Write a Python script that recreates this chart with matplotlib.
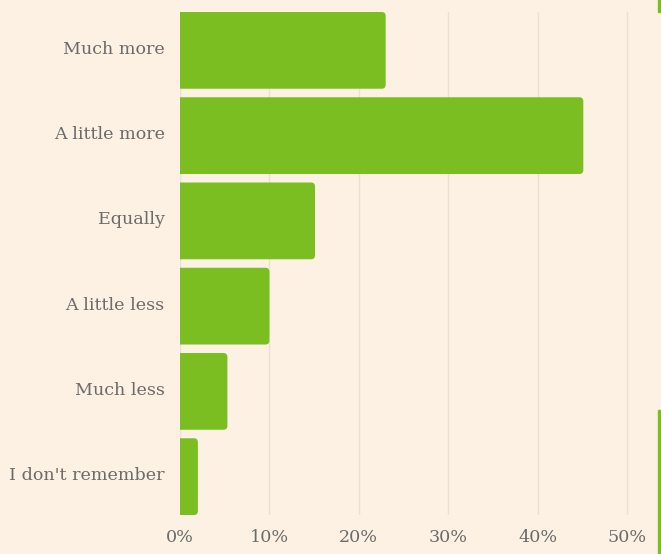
import matplotlib
matplotlib.use("Agg")
import matplotlib.pyplot as plt
import matplotlib.transforms as mtrans
from matplotlib.patches import FancyBboxPatch, Rectangle

# Datos
categorias = ["Much more", "A little more", "Equally", "A little less",
              "Much less", "I don't remember"]
valores = [23.0, 45.1, 15.1, 10.0, 5.3, 2.0]
ticks_x = [0, 10, 20, 30, 40, 50]
etiquetas_x = ["0%", "10%", "20%", "30%", "40%", "50%"]

FONDO = "#fdf1e3"
VERDE = "#7abe22"
GRIS = "#6b6b6b"

plt.rcParams['font.family'] = ['DejaVu Serif']

W, H = 661, 554
fig = plt.figure(figsize=(W / 100, H / 100), dpi=100, facecolor=FONDO)
ax = fig.add_axes([180 / W, 1 - 515 / H, (645 - 180) / W, (515 - 12) / H])
ax.set_facecolor(FONDO)

ax.set_xlim(0, 52)
ax.set_ylim(len(categorias) - 0.55, -0.45)

# barras base (invisibles) y luego la versión con esquinas redondeadas
bars = ax.barh(range(len(categorias)), valores, height=0.9, color="none")

px_x = 52 / (645 - 180)
px_y = 5.9 / (515 - 12)
for b in bars:
    x0, y0 = b.get_x(), b.get_y()
    w, h = b.get_width(), b.get_height()
    r = 4 * px_x
    p = FancyBboxPatch((x0 - 1, y0), w + 1, h,
                       boxstyle=f"round,pad=0,rounding_size={r}",
                       mutation_aspect=px_y / px_x,
                       facecolor=VERDE, edgecolor="none", zorder=3)
    ax.add_patch(p)

ax.set_xticks(ticks_x)
ax.set_xticklabels(etiquetas_x)
ax.set_yticks(range(len(categorias)))
ax.set_yticklabels(categorias)
ax.grid(axis="x", color="#ebe0d2", linewidth=1.0, zorder=0)
ax.set_axisbelow(True)
for s in ax.spines.values():
    s.set_visible(False)
ax.tick_params(axis="both", length=0, colors=GRIS, labelsize=12.6)
ax.tick_params(axis="y", pad=11)
ax.tick_params(axis="x", pad=10)

# subir un poco las etiquetas del eje y
desplazamiento = mtrans.ScaledTranslation(0, 3 / 100, fig.dpi_scale_trans)
for t in ax.get_yticklabels():
    t.set_transform(t.get_transform() + desplazamiento)

# marcas verdes en el borde derecho
fig.add_artist(Rectangle((658 / W, 1 - 12 / H), 3 / W, 12 / H,
                         transform=fig.transFigure, color=VERDE))
fig.add_artist(Rectangle((658 / W, 0), 3 / W, (554 - 410) / H,
                         transform=fig.transFigure, color=VERDE))

fig.savefig("out.png", dpi=100, facecolor=FONDO)
